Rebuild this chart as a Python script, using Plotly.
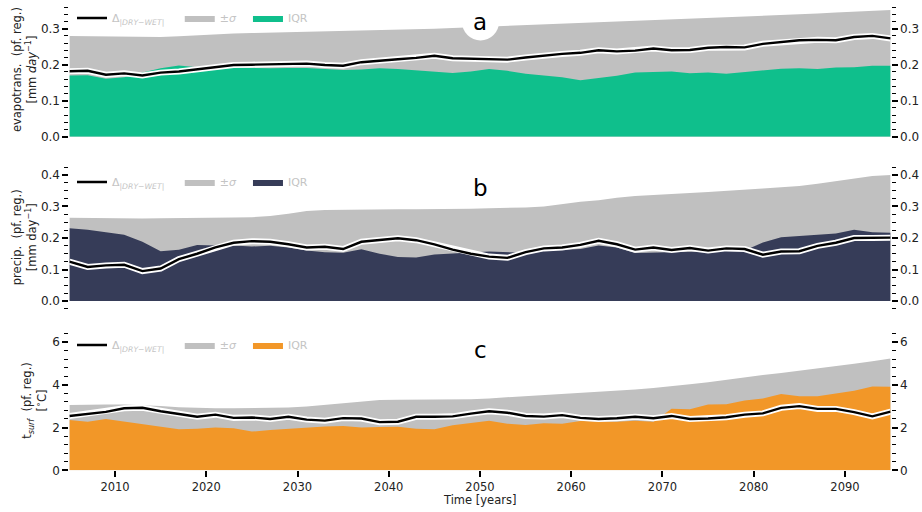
import plotly.graph_objects as go

# Time axis: two-yearly samples 2005-2095
years = list(range(2005, 2096, 2))

# --- Panel a: evapotranspiration [mm/day] ---
et_delta = [0.182, 0.183, 0.172, 0.176, 0.170, 0.178, 0.181, 0.187, 0.193, 0.199,
            0.200, 0.201, 0.201, 0.203, 0.199, 0.197, 0.207, 0.212, 0.215, 0.219,
            0.225, 0.218, 0.217, 0.216, 0.214, 0.220, 0.226, 0.230, 0.233, 0.240,
            0.237, 0.239, 0.245, 0.240, 0.241, 0.247, 0.249, 0.248, 0.258, 0.263,
            0.268, 0.269, 0.268, 0.277, 0.280, 0.273]
et_sigma_hi = [0.280, 0.279, 0.278, 0.277, 0.276, 0.277, 0.279, 0.282, 0.285, 0.287,
               0.288, 0.289, 0.291, 0.292, 0.293, 0.294, 0.295, 0.296, 0.297, 0.299,
               0.300, 0.302, 0.304, 0.306, 0.308, 0.310, 0.312, 0.314, 0.316, 0.317,
               0.319, 0.321, 0.322, 0.324, 0.326, 0.328, 0.330, 0.333, 0.335, 0.337,
               0.340, 0.342, 0.345, 0.347, 0.349, 0.352]
et_iqr_hi = [0.170, 0.171, 0.161, 0.165, 0.178, 0.190, 0.198, 0.192, 0.188, 0.192,
             0.190, 0.190, 0.191, 0.191, 0.188, 0.185, 0.187, 0.190, 0.188, 0.184,
             0.180, 0.177, 0.181, 0.188, 0.183, 0.175, 0.170, 0.165, 0.157, 0.162,
             0.169, 0.178, 0.180, 0.181, 0.176, 0.178, 0.175, 0.180, 0.186, 0.189,
             0.190, 0.188, 0.192, 0.193, 0.197, 0.197]

# --- Panel b: precipitation [mm/day] ---
pr_delta = [0.125, 0.108, 0.113, 0.115, 0.095, 0.103, 0.133, 0.150, 0.170, 0.185,
            0.190, 0.188, 0.180, 0.170, 0.172, 0.165, 0.188, 0.193, 0.199, 0.193,
            0.180, 0.163, 0.150, 0.141, 0.137, 0.155, 0.167, 0.170, 0.178, 0.191,
            0.180, 0.163, 0.170, 0.162, 0.168, 0.160, 0.167, 0.165, 0.147, 0.157,
            0.158, 0.175, 0.185, 0.200, 0.200, 0.201]
pr_sigma_hi = [0.264, 0.263, 0.262, 0.262, 0.262, 0.263, 0.263, 0.264, 0.264, 0.265,
               0.266, 0.270, 0.277, 0.286, 0.289, 0.290, 0.290, 0.290, 0.291, 0.291,
               0.291, 0.292, 0.293, 0.294, 0.295, 0.297, 0.300, 0.308, 0.315, 0.320,
               0.328, 0.333, 0.337, 0.340, 0.343, 0.346, 0.349, 0.353, 0.357, 0.361,
               0.365, 0.372, 0.380, 0.388, 0.397, 0.400]
pr_iqr_hi = [0.231, 0.226, 0.218, 0.210, 0.188, 0.158, 0.163, 0.178, 0.176, 0.176,
             0.173, 0.175, 0.170, 0.160, 0.155, 0.153, 0.164, 0.150, 0.140, 0.138,
             0.148, 0.152, 0.154, 0.157, 0.155, 0.153, 0.160, 0.162, 0.165, 0.176,
             0.170, 0.152, 0.153, 0.154, 0.155, 0.157, 0.158, 0.160, 0.186, 0.202,
             0.206, 0.210, 0.214, 0.226, 0.218, 0.217]

# --- Panel c: surface temperature [degC] ---
ts_delta = [2.54, 2.65, 2.73, 2.90, 2.92, 2.76, 2.64, 2.50, 2.60, 2.45,
            2.47, 2.40, 2.50, 2.37, 2.32, 2.44, 2.42, 2.25, 2.27, 2.50,
            2.50, 2.52, 2.65, 2.76, 2.69, 2.54, 2.51, 2.58, 2.45, 2.40,
            2.43, 2.50, 2.43, 2.54, 2.40, 2.42, 2.48, 2.60, 2.66, 2.92,
            3.00, 2.87, 2.87, 2.72, 2.52, 2.74]
ts_sigma_hi = [3.05, 3.07, 3.08, 3.07, 3.05, 3.00, 2.95, 2.92, 2.90, 2.90,
               2.90, 2.91, 2.93, 2.98, 3.05, 3.13, 3.21, 3.28, 3.30, 3.30,
               3.30, 3.30, 3.32, 3.36, 3.41, 3.45, 3.50, 3.56, 3.62, 3.66,
               3.71, 3.78, 3.85, 3.92, 4.02, 4.12, 4.24, 4.35, 4.45, 4.55,
               4.65, 4.77, 4.88, 4.98, 5.10, 5.23]
ts_iqr_hi = [2.35, 2.27, 2.40, 2.28, 2.15, 2.03, 1.92, 1.94, 2.00, 1.96,
             1.81, 1.88, 1.94, 2.02, 2.05, 2.07, 2.00, 2.02, 2.03, 1.94,
             1.92, 2.10, 2.22, 2.31, 2.18, 2.12, 2.20, 2.18, 2.30, 2.27,
             2.27, 2.32, 2.27, 2.88, 2.85, 3.08, 3.09, 3.26, 3.35, 3.56,
             3.46, 3.46, 3.60, 3.72, 3.92, 3.90]

GRAY = "#c0c0c0"
FONT = "DejaVu Sans"
TXT = "#222222"
W, H = 922, 512
NB = "\u00a0"

panels = [
    dict(letter="a", delta=et_delta, sig=et_sigma_hi, iqr=et_iqr_hi, color="#0fbf8c",
         yrange=[0, 0.37], dtick=0.1, minor=0.02, fmt=".1f", top=3.5, bottom=136.7,
         title="evapotrans.  (pf. reg.)<br>[mm <i>day</i><sup>−1</sup>]", tx=24,
         letter_y=22, leg_y=18),
    dict(letter="b", delta=pr_delta, sig=pr_sigma_hi, iqr=pr_iqr_hi, color="#363c58",
         yrange=[-0.025, 0.43], dtick=0.1, minor=0.025, fmt=".1f", top=165.5, bottom=308.9,
         title="precip.  (pf. reg.)<br>[mm day<sup>−1</sup>]", tx=24,
         letter_y=188, leg_y=182),
    dict(letter="c", delta=ts_delta, sig=ts_sigma_hi, iqr=ts_iqr_hi, color="#f29728",
         yrange=[0, 6.5], dtick=2, minor=0.4, fmt="d", top=331.2, bottom=470.3,
         title="t<sub><i>surf</i></sub>  (pf. reg.)<br>[<sup>∘</sup>C]", tx=35,
         letter_y=350, leg_y=345),
]

x_left, x_right = 69.4 / W, 890.6 / W

fig = go.Figure()
layout = dict(
    template="none",
    width=W, height=H, margin=dict(l=0, r=0, t=0, b=0, pad=0),
    paper_bgcolor="white", plot_bgcolor="white",
    font=dict(family=FONT, size=11.5, color=TXT),
    showlegend=True, annotations=[], shapes=[],
)

for i, p in enumerate(panels):
    n = i + 1
    xa = "x" if n == 1 else f"x{n}"
    ya = "y" if n == 1 else f"y{n}"
    yr = f"y{n + 3}"
    leg = "legend" if n == 1 else f"legend{n}"

    fig.add_trace(go.Scatter(x=years, y=p["sig"], mode="lines", fill="tozeroy",
                             line=dict(width=0), fillcolor=GRAY,
                             name="±<i>σ</i>" + NB * 2,
                             legend=leg, legendrank=2, xaxis=xa, yaxis=ya,
                             hoverinfo="skip"))
    fig.add_trace(go.Scatter(x=years, y=p["iqr"], mode="lines", fill="tozeroy",
                             line=dict(width=0), fillcolor=p["color"], name="IQR",
                             legend=leg, legendrank=3, xaxis=xa, yaxis=ya,
                             hoverinfo="skip"))
    fig.add_trace(go.Scatter(x=years, y=p["delta"], mode="lines",
                             line=dict(color="white", width=6), showlegend=False,
                             xaxis=xa, yaxis=ya, hoverinfo="skip"))
    fig.add_trace(go.Scatter(x=years, y=p["delta"], mode="lines",
                             line=dict(color="black", width=2.4),
                             name="Δ<sub><i>|DRY−WET|</i></sub>" + NB * 3,
                             legend=leg, legendrank=1, xaxis=xa, yaxis=ya))
    # right-hand axis carrying the mirrored tick labels
    fig.add_trace(go.Scatter(x=years, y=p["delta"], mode="lines", line=dict(width=0),
                             opacity=0, showlegend=False, hoverinfo="skip",
                             xaxis=xa, yaxis=yr))

    dom = [1 - p["bottom"] / H, 1 - p["top"] / H]
    ycommon = dict(
        range=p["yrange"], domain=dom, dtick=p["dtick"], tick0=0, tickformat=p["fmt"],
        ticks="outside", ticklen=6, tickwidth=2, tickcolor="black",
        showgrid=False, zeroline=False, showline=False, automargin=False,
        tickfont=dict(family=FONT, size=12, color=TXT),
        minor=dict(dtick=p["minor"], tick0=0, ticks="outside", ticklen=4,
                   tickwidth=1.2, tickcolor="black", showgrid=False),
        fixedrange=True,
    )
    layout[f"yaxis{'' if n == 1 else n}"] = dict(ycommon, anchor=xa, side="left")
    layout[f"yaxis{n + 3}"] = dict(ycommon, anchor=xa, side="right",
                                    overlaying=ya)

    xcommon = dict(range=[2005, 2095], domain=[x_left, x_right], anchor=ya,
                   showgrid=False, zeroline=False, showline=False, automargin=False,
                   fixedrange=True)
    if n == 3:
        xcommon.update(dtick=10, tick0=2010, ticks="outside", ticklen=6, tickwidth=2,
                       tickcolor="black", showticklabels=True,
                       tickfont=dict(family=FONT, size=11.5, color=TXT))
    else:
        xcommon.update(showticklabels=False, ticks="")
    layout[f"xaxis{'' if n == 1 else n}"] = xcommon

    layout[leg] = dict(
        orientation="h", x=72 / W, y=1 - p["leg_y"] / H, xanchor="left",
        yanchor="middle", bgcolor="rgba(0,0,0,0)", borderwidth=0,
        font=dict(family=FONT, size=11, color="#c4c4c4"),
        itemwidth=30, traceorder="normal",
    )

    # y-axis title (two lines, rotated)
    layout["annotations"].append(dict(
        text=p["title"], textangle=-90, xref="paper", yref="paper",
        x=p["tx"] / W, y=1 - (p["top"] + p["bottom"]) / 2 / H,
        xanchor="center", yanchor="middle", showarrow=False,
        font=dict(family=FONT, size=11.5, color=TXT),
    ))
    # panel letter on a white disc
    cy = p["letter_y"]
    layout["shapes"].append(dict(
        type="circle", xref="paper", yref="paper", layer="above",
        x0=(480.5 - 18.5) / W, x1=(480.5 + 18.5) / W,
        y0=1 - (cy + 18.5) / H, y1=1 - (cy - 18.5) / H,
        fillcolor="white", line=dict(width=0),
    ))
    layout["annotations"].append(dict(
        text=p["letter"], xref="paper", yref="paper", x=480.5 / W, y=1 - cy / H,
        xanchor="center", yanchor="middle", showarrow=False,
        font=dict(family=FONT, size=23, color="black"),
    ))

layout["annotations"].append(dict(
    text="Time [years]", xref="paper", yref="paper", x=480 / W, y=1 - 500 / H,
    xanchor="center", yanchor="middle", showarrow=False,
    font=dict(family=FONT, size=11.5, color=TXT),
))

fig.update_layout(**layout)
fig.write_html("out.html")
